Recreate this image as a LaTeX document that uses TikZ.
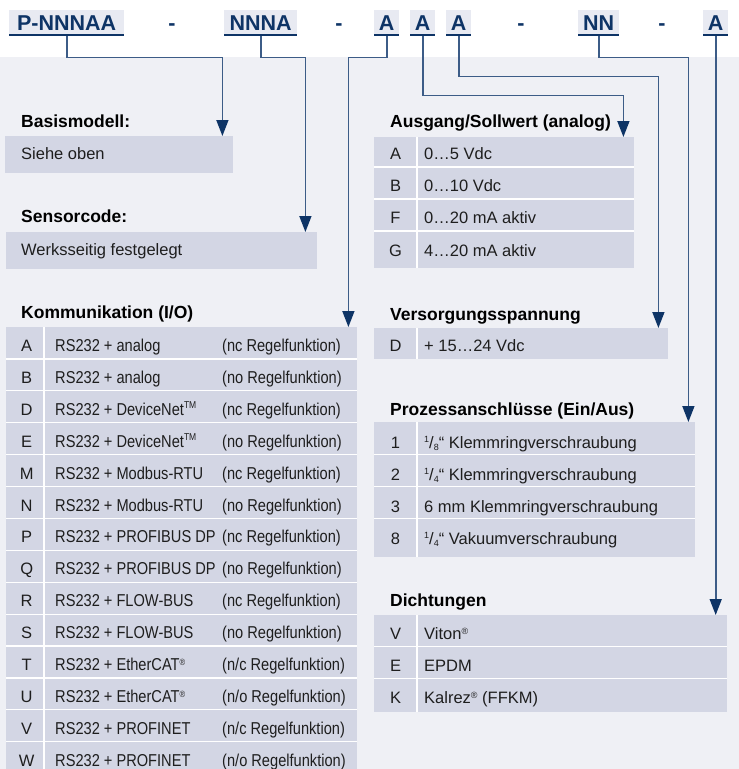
\documentclass[tikz,border=0pt]{standalone}
\usepackage{fontspec}
\setmainfont{Liberation Sans}
\newfontfamily\narrowfont[FakeStretch=0.85]{Liberation Sans}
\usetikzlibrary{arrows.meta}
\definecolor{bggray}{RGB}{239,240,245}
\definecolor{cellgray}{RGB}{211,214,228}
\definecolor{hdrbg}{RGB}{232,234,242}
\definecolor{navy}{RGB}{14,52,102}
\definecolor{linecol}{RGB}{60,92,135}
\definecolor{txtcol}{RGB}{30,30,30}
\newcommand{\regmark}{\raisebox{0.55ex}{\fontsize{9}{9}\selectfont ®}}
\newcommand{\tmmark}{\raisebox{0.7ex}{\fontsize{10}{10}\selectfont TM}}
\newcommand{\frcmark}[2]{\raisebox{0.65ex}{\fontsize{9}{9}\selectfont #1}/\raisebox{-0.25ex}{\fontsize{9}{9}\selectfont #2}}
\begin{document}
\begin{tikzpicture}[x=1pt,y=-1pt,
  hdr/.style={fill=hdrbg, text=navy, font=\fontsize{21.5}{22}\selectfont\bfseries, inner sep=0pt, minimum height=26pt, anchor=north west},
  uline/.style={draw=navy, line width=2pt},
  dashsym/.style={anchor=base, inner sep=0pt, text=navy, font=\fontsize{21.5}{22}\selectfont\bfseries},
  conn/.style={draw=linecol, line width=1.6pt, -{Triangle[width=12pt,length=16pt,color=navy]}},
  tbl/.style={fill=cellgray, inner sep=0pt, anchor=north west},
  sep/.style={draw=white, line width=1.2pt},
  ttl/.style={anchor=base west, inner sep=0pt, text=black, font=\fontsize{17.5}{19}\selectfont\bfseries},
  cell/.style={anchor=base west, inner sep=0pt, text=txtcol, font=\fontsize{16.5}{18}\selectfont},
  cellN/.style={anchor=base west, inner sep=0pt, text=txtcol, font=\fontsize{17.2}{18}\narrowfont},
  key/.style={anchor=base, inner sep=0pt, text=txtcol, font=\fontsize{16.5}{18}\selectfont}]
\useasboundingbox (0,0) rectangle (739,769);
\fill[white] (0,0) rectangle (739,769);
\fill[bggray] (0,57) rectangle (739,769);

% header code
\node[hdr, minimum width=115pt] (hP) at (9,10) {P-NNNAA};
\node[hdr, minimum width=73pt] (hN) at (224,10) {NNNA};
\node[hdr, minimum width=25pt] (hA1) at (374,10) {A};
\node[hdr, minimum width=25pt] (hA2) at (410,10) {A};
\node[hdr, minimum width=25pt] (hA3) at (446,10) {A};
\node[hdr, minimum width=41pt] (hNN) at (578,10) {NN};
\node[hdr, minimum width=25pt] (hA4) at (703,10) {A};
\foreach \n in {hP,hN,hA1,hA2,hA3,hNN,hA4}
  \draw[uline] ([yshift=1pt]\n.south west) -- ([yshift=1pt]\n.south east);
\node[dashsym] (d1) at (172,30.7) {-};
\node[dashsym] (d2) at (339,30.7) {-};
\node[dashsym] (d3) at (521,30.7) {-};
\node[dashsym] (d4) at (662,30.7) {-};

% tables
\node[tbl, minimum width=228pt, minimum height=37pt] (basis) at (5,136) {};
\node[tbl, minimum width=311pt, minimum height=37pt] (sensor) at (6,232) {};
\node[tbl, minimum width=351pt, minimum height=442pt] (komm) at (6,327) {};
\node[tbl, minimum width=260pt, minimum height=131pt] (ausg) at (374,137) {};
\node[tbl, minimum width=294pt, minimum height=31pt] (vers) at (374,328) {};
\node[tbl, minimum width=321pt, minimum height=135pt] (proz) at (374,422) {};
\node[tbl, minimum width=353pt, minimum height=97pt] (dicht) at (374,615) {};

% separators
\draw[sep] (44,327) -- (44,769);
\foreach \i in {1,...,13} \draw[sep] (6,{327+31.9*\i}) -- (357,{327+31.9*\i});
\draw[sep] (417,137) -- (417,268);
\foreach \yy in {167,199,231} \draw[sep] (374,\yy) -- (634,\yy);
\draw[sep] (417,328) -- (417,359);
\draw[sep] (417,422) -- (417,557);
\foreach \yy in {454.3,486.5,518.7} \draw[sep] (374,\yy) -- (695,\yy);
\draw[sep] (417,615) -- (417,712);
\foreach \yy in {646.5,678.5} \draw[sep] (374,\yy) -- (727,\yy);

% titles
\node[ttl] (tBasis) at (21,127.3) {Basismodell:};
\node[ttl] (tSensor) at (21,222.7) {Sensorcode:};
\node[ttl] (tKomm) at (21,318.5) {Kommunikation (I/O)};
\node[ttl] (tAusg) at (390,127.5) {Ausgang/Sollwert (analog)};
\node[ttl] (tVers) at (390,320) {Versorgungsspannung};
\node[ttl] (tProz) at (390,415.7) {Prozessanschlüsse (Ein/Aus)};
\node[ttl] (tDicht) at (390,606.7) {Dichtungen};

% simple boxes
\node[cell] (xBasis) at (21,159.3) {Siehe oben};
\node[cell] (xSensor) at (21,255) {Werksseitig festgelegt};

% Kommunikation rows
\foreach \k/\b/\c [count=\i from 0] in {
 A/{RS232 + analog}/{(nc Regelfunktion)},
 B/{RS232 + analog}/{(no Regelfunktion)},
 D/{RS232 + DeviceNet\tmmark}/{(nc Regelfunktion)},
 E/{RS232 + DeviceNet\tmmark}/{(no Regelfunktion)},
 M/{RS232 + Modbus-RTU}/{(nc Regelfunktion)},
 N/{RS232 + Modbus-RTU}/{(no Regelfunktion)},
 P/{RS232 + PROFIBUS DP}/{(nc Regelfunktion)},
 Q/{RS232 + PROFIBUS DP}/{(no Regelfunktion)},
 R/{RS232 + FLOW-BUS}/{(nc Regelfunktion)},
 S/{RS232 + FLOW-BUS}/{(no Regelfunktion)},
 T/{RS232 + EtherCAT\regmark}/{(n/c Regelfunktion)},
 U/{RS232 + EtherCAT\regmark}/{(n/o Regelfunktion)},
 V/{RS232 + PROFINET}/{(n/c Regelfunktion)},
 W/{RS232 + PROFINET}/{(n/o Regelfunktion)}}
{
  \node[key] (kk\i) at (26.7,{351.5+31.9*\i}) {\k};
  \node[cellN] (kb\i) at (55,{351.5+31.9*\i}) {\b};
  \node[cellN] (kc\i) at (222,{351.5+31.9*\i}) {\c};
}

% Ausgang rows
\node[key] (ak1) at (395.5,159.3) {A}; \node[cell] (at1) at (424,159.3) {0…5 Vdc};
\node[key] (ak2) at (395.5,191.7) {B}; \node[cell] (at2) at (424,191.7) {0…10 Vdc};
\node[key] (ak3) at (395.5,223.3) {F}; \node[cell] (at3) at (424,223.3) {0…20 mA aktiv};
\node[key] (ak4) at (395.5,256) {G}; \node[cell] (at4) at (424,256) {4…20 mA aktiv};

% Versorgung
\node[key] (vk1) at (395.5,351.7) {D}; \node[cell] (vt1) at (424,351.7) {+ 15…24 Vdc};

% Prozess
\node[key] (pk1) at (395.5,448.3) {1}; \node[cell] (pt1) at (424,448.3) {\frcmark{1}{8}“ Klemmringverschraubung};
\node[key] (pk2) at (395.5,480) {2}; \node[cell] (pt2) at (424,480) {\frcmark{1}{4}“ Klemmringverschraubung};
\node[key] (pk3) at (395.5,512.3) {3}; \node[cell] (pt3) at (424,512.3) {6 mm Klemmringverschraubung};
\node[key] (pk4) at (395.5,544.3) {8}; \node[cell] (pt4) at (424,544.3) {\frcmark{1}{4}“ Vakuumverschraubung};

% Dichtungen
\node[key] (dk1) at (395.5,639) {V}; \node[cell] (dt1) at (424,639) {Viton\regmark};
\node[key] (dk2) at (395.5,671) {E}; \node[cell] (dt2) at (424,671) {EPDM};
\node[key] (dk3) at (395.5,703.3) {K}; \node[cell] (dt3) at (424,703.3) {Kalrez\regmark{} (FFKM)};

% connectors
\draw[conn] (hP.south) -- ++(0,21) -| ([xshift=-11pt]basis.north east);
\draw[conn] (hN.south) -- ++(0,21) -| ([xshift=-12pt]sensor.north east);
\draw[conn] (hA1.south) -- ++(0,21) -| ([xshift=-9pt]komm.north east);
\draw[conn] (hA2.south) -- ++(0,59) -| ([xshift=-11pt]ausg.north east);
\draw[conn] (hA3.south) -- ++(0,40) -| ([xshift=-10pt]vers.north east);
\draw[conn] (hNN.south) -- ++(0,21) -| ([xshift=-7pt]proz.north east);
\draw[conn] (hA4.south) -- (hA4.south |- dicht.north);
\end{tikzpicture}
\end{document}
